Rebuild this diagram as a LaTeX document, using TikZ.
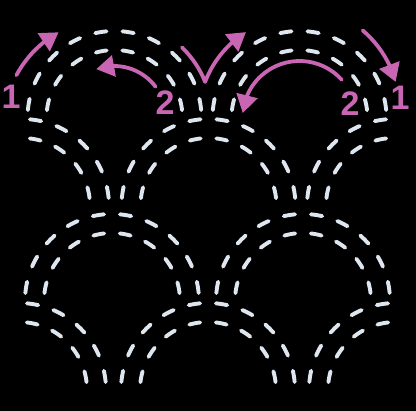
\documentclass[tikz,border=0pt]{standalone}
\usepackage{fontspec}
\setsansfont{Liberation Sans}
\usetikzlibrary{arrows.meta,bending}
\definecolor{stitchc}{RGB}{222,230,240}
\definecolor{pinkc}{RGB}{200,102,180}
\newcommand\stitcharc[5]{%
  \pgfmathsetmacro\stLen{abs(#5-#4)*pi/180*#3}%
  \pgfmathsetmacro\stNum{max(1,round(\stLen/27))}%
  \pgfmathsetmacro\stPer{\stLen/\stNum}%
  \pgfmathsetmacro\stOn{0.56*\stPer-3.9}%
  \pgfmathsetmacro\stOff{\stPer-\stOn}%
  \pgfmathsetmacro\stPh{\stOn+0.5*\stOff}%
  \draw[stitch,dash pattern=on \stOn pt off \stOff pt,dash phase=\stPh pt]
    (#1,#2) ++(#4:#3) arc[start angle=#4,end angle=#5,radius=#3];%
}
\newcommand\fullshell[2]{\stitcharc{#1}{#2}{87}{180}{360}\stitcharc{#1}{#2}{68}{180}{360}}
\newcommand\leftshell[2]{\stitcharc{#1}{#2}{87}{270}{360}\stitcharc{#1}{#2}{68}{270}{360}}
\newcommand\rightshell[2]{\stitcharc{#1}{#2}{87}{180}{270}\stitcharc{#1}{#2}{68}{180}{270}}
\begin{document}
\begin{tikzpicture}[x=1pt,y=-1pt,
  stitch/.style={draw=stitchc,line width=3.9pt,line cap=round},
  parrow/.style={draw=pinkc,line width=3.8pt,line cap=round,line join=round,
    -{Triangle[length=18pt,width=21pt]}},
  lab/.style={text=pinkc,font=\sffamily\bfseries\fontsize{34}{34}\selectfont,inner sep=0pt}]
\fill[black] (0,0) rectangle (416,411);
\useasboundingbox (0,0) rectangle (416,411);
% row 0
\fullshell{114.5}{118}
\fullshell{299.5}{118}
% row 1
\leftshell{22}{206}
\fullshell{208.5}{206}
\rightshell{394}{206}
% row 2
\fullshell{112}{301}
\fullshell{303}{301}
% row 3
\leftshell{19}{390}
\fullshell{208}{390}
\rightshell{396}{390}
% arrows
\draw[parrow] (110,125) ++(208:106) arc[start angle=208,end angle=241,radius=106];
\draw[parrow] (114,118) ++(323:52) arc[start angle=323,end angle=250,radius=52];
\draw[parrow] (114,118) ++(314:98) arc[start angle=314,end angle=338.4,radius=98]
  arc[start angle=200.8,end angle=238,radius=101];
\draw[parrow] (295,110) ++(310.4:104.5) arc[start angle=310.4,end angle=344.4,radius=104.5];
\draw[parrow] (299.5,118) ++(318:57) arc[start angle=318,end angle=185,radius=57];
% labels
\node[lab] (l1a) at (11,97) {1};
\node[lab] (l2a) at (165,103) {2};
\node[lab] (l2b) at (350,104) {2};
\node[lab] (l1b) at (400,98) {1};
\end{tikzpicture}
\end{document}
